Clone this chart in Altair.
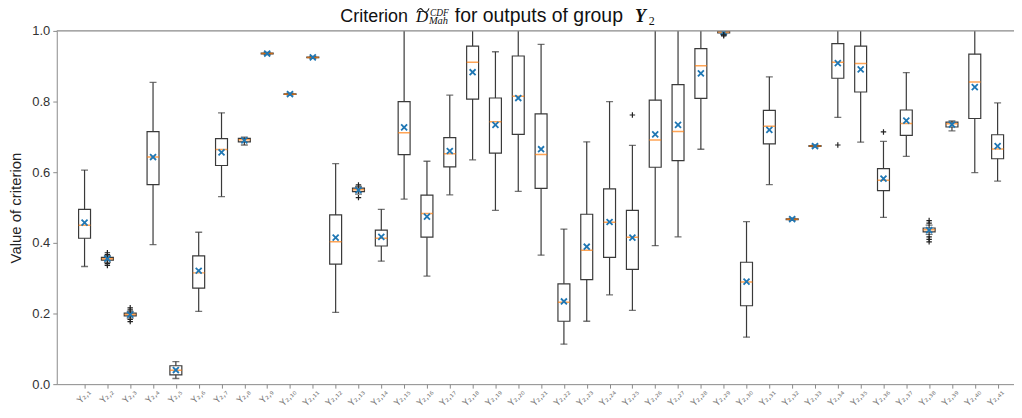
import altair as alt
import pandas as pd

# ---- data ----
positions = list(range(1, 42))
sub = str.maketrans("0123456789", "₀₁₂₃₄₅₆₇₈₉")
tick_labels = ["Y₂," + str(i).translate(sub) for i in positions]

whisker_low = [.333, .345, .187, .395, .016, .206, .531, .677, .933, .818,
               .922, .203, .538, .348, .524, .306, .536, .635, .492, .546,
               .365, .113, .178, .253, .209, .392, .417, .665, .991, .133,
               .565, .464, .671, .755, .685, .472, .645, .424, .717, .599, .575]
q1 = [.413, .351, .193, .565, .026, .272, .619, .686, .935, .820,
      .924, .340, .545, .391, .650, .416, .615, .807, .654, .707,
      .554, .178, .296, .359, .325, .614, .633, .809, .994, .222,
      .680, .466, .673, .866, .827, .548, .704, .431, .728, .752, .638]
median = [.450, .355, .197, .643, .039, .315, .664, .692, .936, .821,
          .925, .403, .550, .413, .712, .483, .652, .911, .743, .815,
          .650, .232, .379, .458, .416, .691, .715, .901, .997, .289,
          .730, .467, .674, .911, .908, .577, .738, .437, .737, .855, .666]
q3 = [.495, .359, .201, .715, .052, .363, .695, .696, .937, .822,
      .926, .479, .555, .436, .800, .535, .698, .957, .810, .929,
      .765, .284, .481, .553, .492, .804, .848, .950, .999, .345,
      .775, .468, .675, .964, .957, .610, .776, .442, .742, .934, .706]
whisker_high = [.606, .364, .206, .854, .064, .430, .768, .699, .939, .824,
                .928, .624, .560, .495, 1.05, .631, .818, 1.05, .941, 1.05,
                .962, .439, .686, .800, .676, 1.05, 1.05, 1.05, 1.05, .460,
                .870, .470, .677, 1.05, 1.05, .687, .882, .450, .745, 1.05, .796]
mean = [.457, .355, .197, .643, .040, .321, .656, .690, .936, .821,
        .925, .415, .549, .417, .727, .474, .660, .883, .734, .810,
        .665, .234, .389, .459, .415, .707, .734, .880, .996, .290,
        .720, .467, .674, .909, .891, .582, .746, .436, .735, .841, .674]

outlier_pos = [2, 2, 2, 2, 3, 3, 3, 3, 13, 13, 25, 29, 29, 34, 36,
               38, 38, 38, 38, 38]
outlier_val = [.372, .367, .341, .336, .216, .210, .183, .177, .564, .528,
               .762, .986, .989, .677, .714, .463, .456, .417, .410, .403]

y_ticks = [0.0, 0.2, 0.4, 0.6, 0.8, 1.0]

df = pd.DataFrame({"pos": positions, "label": tick_labels, "wlo": whisker_low, "q1": q1,
                   "med": median, "q3": q3, "whi": whisker_high, "mean": mean})
odf = pd.DataFrame({"pos": outlier_pos, "val": outlier_val})

W, H = 962, 355
AX = "#8a8a8a"
BOX = "#3a3a3a"

xscale = alt.Scale(domain=[0, 41.5], nice=False, zero=False)
yscale = alt.Scale(domain=[0, 1], nice=False)

x_axis = alt.Axis(values=positions, labels=False,
                  tickColor=AX, tickSize=4, domainColor=AX, grid=False, title=None)
y_axis = alt.Axis(values=y_ticks, format=".1f", grid=False, domainColor=AX,
                  tickColor=AX, tickSize=4, labelFontSize=13, labelFont="Liberation Sans",
                  labelColor="#333", labelFlush=False, labelPadding=3,
                  title="Value of criterion", titleFontSize=15, titleFont="Liberation Sans",
                  titleFontWeight="normal", titleColor="#222", titlePadding=8)

X = alt.X("pos:Q", scale=xscale, axis=x_axis)


def Y(field):
    return alt.Y(field, scale=yscale, axis=y_axis)


base = alt.Chart(df)
whisk = base.mark_rule(color=BOX, strokeWidth=1.2, clip=True).encode(
    x=X, y=Y("wlo:Q"), y2="whi:Q")
box = base.mark_bar(size=12, fill="white", stroke=BOX, strokeWidth=1.2, clip=True).encode(
    x=X, y=Y("q1:Q"), y2="q3:Q")
cap_lo = base.mark_tick(orient="horizontal", size=7, thickness=1.3, color=BOX, clip=True).encode(
    x=X, y=Y("wlo:Q"))
cap_hi = base.mark_tick(orient="horizontal", size=7, thickness=1.3, color=BOX, clip=True).encode(
    x=X, y=Y("whi:Q"))
med = base.mark_tick(orient="horizontal", size=12, thickness=1.5, color="#ff7f0e", clip=True).encode(
    x=X, y=Y("med:Q"))
mn = base.mark_point(shape="M-1,-1L1,1M1,-1L-1,1", size=36, filled=False,
                     stroke="#1f77b4", strokeWidth=1.8, opacity=1, clip=True).encode(
    x=X, y=Y("mean:Q"))
outl = alt.Chart(odf).mark_point(shape="M-1,0L1,0M0,-1L0,1", size=30, filled=False,
                                 stroke="#222", strokeWidth=1.2, opacity=1, clip=True).encode(
    x=X, y=Y("val:Q"))
top = alt.Chart(pd.DataFrame({"v": [1.0]})).mark_rule(color=AX, strokeWidth=1.2).encode(
    y=Y("v:Q"))

# rotated category labels under the ticks
xlabels = base.mark_text(angle=315, align="right", baseline="top", dx=3, dy=0,
                         font="DejaVu Sans", fontSize=9, color="#7a7a7a").encode(
    x=X, y=alt.value(H + 6), text="label:N")

one = pd.DataFrame({"k": [0]})


def txt(s, x, y, size, font="Liberation Sans", style="normal", weight="normal",
        baseline="alphabetic"):
    return alt.Chart(one).mark_text(text=s, align="left", baseline=baseline,
                                    font=font, fontSize=size, fontStyle=style,
                                    fontWeight=weight, color="#111").encode(
        x=alt.value(x), y=alt.value(y))


# wavy tilde accent drawn as a stroked symbol above the D
tilde = alt.Chart(one).mark_point(
    shape="M-1,0.35C-0.7,-0.45 -0.3,-0.45 0,0C0.3,0.45 0.7,0.45 1,-0.35",
    size=150, filled=False, stroke="#111", strokeWidth=1.1, opacity=1).encode(
    x=alt.value(368), y=alt.value(-20.5))

title_parts = [
    txt("Criterion", 285, -9, 18),
    txt("D", 361, -9, 17, font="Liberation Serif", style="italic"),
    tilde,
    txt("CDF", 375, -14.5, 9.5, font="Liberation Serif", style="italic"),
    txt("Mah", 374, -6.5, 10.5, font="Liberation Serif", style="italic"),
    txt("for outputs of group", 400, -9, 19.5),
    txt("Y", 581, -9, 18, font="Liberation Serif", style="italic", weight="bold"),
    txt("2", 595, -5.5, 12, font="Liberation Serif"),
]

chart = alt.layer(whisk, box, cap_lo, cap_hi, med, mn, outl, top, xlabels,
                  *title_parts).properties(
    width=W, height=H,
    autosize=alt.AutoSizeParams(type="none"),
    padding={"left": 49, "top": 22, "right": 0, "bottom": 31},
).configure_view(stroke=None)

chart.save("out.html", embed_options={"renderer": "svg", "actions": False})
